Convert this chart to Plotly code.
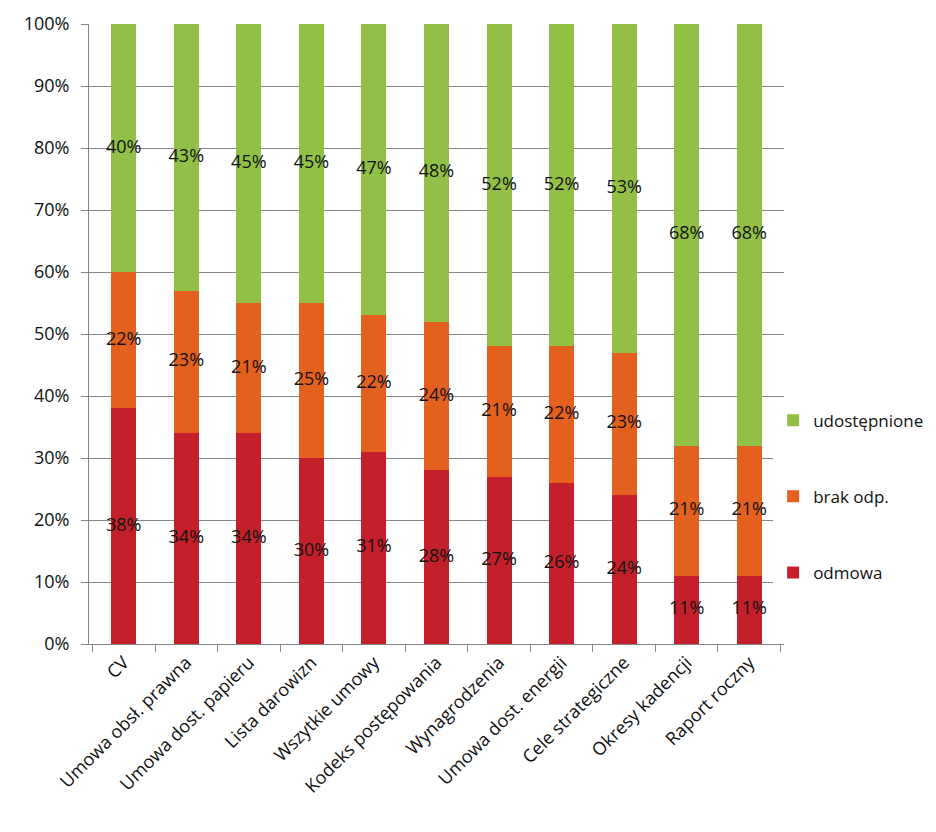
import plotly.graph_objects as go

categories = ["CV", "Umowa obsł. prawna", "Umowa dost. papieru", "Lista darowizn",
              "Wszytkie umowy", "Kodeks postępowania", "Wynagrodzenia",
              "Umowa dost. energii", "Cele strategiczne", "Okresy kadencji", "Raport roczny"]
odmowa = [38, 34, 34, 30, 31, 28, 27, 26, 24, 11, 11]
brak_odp = [22, 23, 21, 25, 22, 24, 21, 22, 23, 21, 21]
udostepnione = [40, 43, 45, 45, 47, 48, 52, 52, 53, 68, 68]

series = [("odmowa", odmowa, "#C3202B", 3),
          ("brak odp.", brak_odp, "#E4601F", 2),
          ("udostępnione", udostepnione, "#92C047", 1)]

FONT = "Open Sans"
fig = go.Figure()
base = [0] * len(categories)
for i, (name, vals, col, rank) in enumerate(series):
    fig.add_trace(go.Bar(x=categories, y=vals, name=name, marker_color=col,
                         marker_line_width=0, legendgroup=name, legendrank=rank,
                         width=0.4))
    mids = [b + v / 2 for b, v in zip(base, vals)]
    fig.add_trace(go.Scatter(x=categories, y=mids, mode="text",
                             text=[f"{v}%" for v in vals], showlegend=False,
                             textfont=dict(family=FONT, size=18, color="#111"),
                             hoverinfo="skip"))
    base = [b + v for b, v in zip(base, vals)]

fig.update_layout(
    barmode="stack",
    width=936, height=832,
    margin=dict(l=89, r=152, t=24, b=188, autoexpand=False),
    plot_bgcolor="white", paper_bgcolor="white",
    font=dict(family=FONT, size=18, color="#111"),
    legend=dict(xref="container", yref="container", x=0.826, y=0.403,
                xanchor="left", yanchor="middle",
                traceorder="grouped", tracegroupgap=51,
                font=dict(size=17), itemwidth=30),
    showlegend=True,
)
fig.update_yaxes(range=[0, 100], dtick=10, ticksuffix="%", showgrid=True,
                 gridcolor="#868686", gridwidth=1, showline=True, linecolor="#868686",
                 ticks="outside", ticklen=7, tickcolor="#868686", zeroline=False,
                 tickfont=dict(size=18), ticklabelstandoff=8)
fig.update_xaxes(showline=True, linecolor="#868686", ticks="outside", ticklen=7,
                 tickcolor="#868686", tickson="boundaries", tickangle=-45,
                 tickfont=dict(size=18))

fig.write_html("out.html")
